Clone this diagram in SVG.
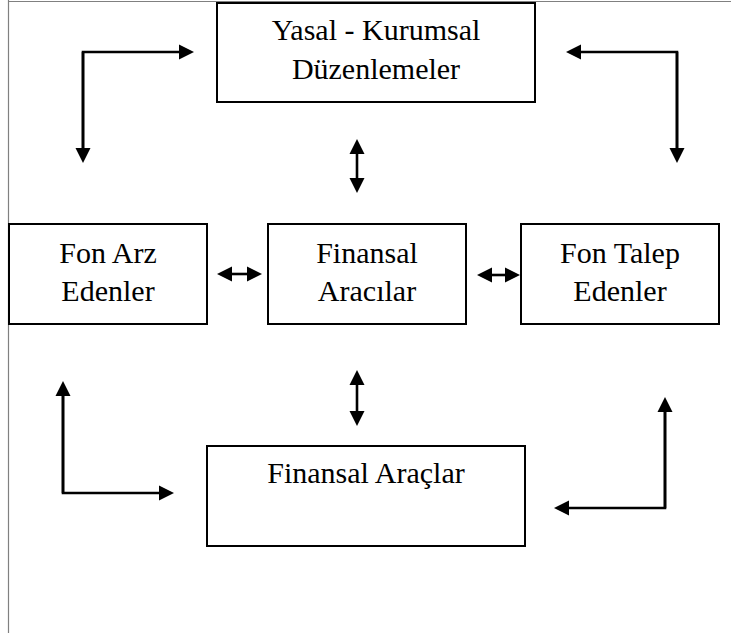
<svg xmlns="http://www.w3.org/2000/svg" width="731" height="633" viewBox="0 0 731 633">
<style>
.frame{stroke:#808080;stroke-width:1.2;fill:none}
.box{fill:#fff;stroke:#000;stroke-width:2}
.lbl{font-family:"Liberation Serif","Times New Roman",serif;font-size:30px;fill:#000;text-anchor:middle}
.con{fill:none;stroke:#000;stroke-width:2.6}
.one{marker-end:url(#ah)}
.two{marker-start:url(#ah);marker-end:url(#ah)}
</style>
<defs>
<marker id="ah" markerUnits="userSpaceOnUse" markerWidth="16" markerHeight="16" viewBox="0 -8 15 16" refX="2" refY="0" orient="auto-start-reverse">
<path d="M0,-7.5 L15,0 L0,7.5 Z" fill="#000"/>
</marker>
</defs>
<rect width="731" height="633" fill="#fff"/>
<g id="frame">
<line class="frame" x1="8.5" y1="0" x2="8.5" y2="633"/>
<line class="frame" x1="8" y1="1.5" x2="731" y2="1.5"/>
</g>
<g id="connectors">
<path class="con one" d="M83,150 V52 H181"/>
<path class="con one" d="M83,52 V150"/>
<path class="con one" d="M677,150 V52 H579"/>
<path class="con one" d="M677,52 V150"/>
<line class="con two" x1="357" y1="152" x2="357" y2="180"/>
<line class="con two" x1="357" y1="383" x2="357" y2="413"/>
<line class="con two" x1="230" y1="274" x2="249" y2="274"/>
<line class="con two" x1="490" y1="275" x2="507" y2="275"/>
<path class="con one" d="M63,493 V394"/>
<path class="con one" d="M63,394 V493 H161"/>
<path class="con one" d="M665,508 V410"/>
<path class="con one" d="M665,410 V508 H567"/>
</g>
<g id="yasal">
<rect class="box" x="217" y="3" width="318" height="99"/>
<text class="lbl" x="376" y="40">Yasal - Kurumsal</text>
<text class="lbl" x="376" y="79">Düzenlemeler</text>
</g>
<g id="fonarz">
<rect class="box" x="9" y="224" width="198" height="100"/>
<text class="lbl" x="108" y="263">Fon Arz</text>
<text class="lbl" x="108" y="301">Edenler</text>
</g>
<g id="aracilar">
<rect class="box" x="268" y="224" width="198" height="100"/>
<text class="lbl" x="367" y="263">Finansal</text>
<text class="lbl" x="367" y="301">Aracılar</text>
</g>
<g id="fontalep">
<rect class="box" x="521" y="224" width="198" height="100"/>
<text class="lbl" x="620" y="263">Fon Talep</text>
<text class="lbl" x="620" y="301">Edenler</text>
</g>
<g id="araclar">
<rect class="box" x="207" y="446" width="318" height="100"/>
<text class="lbl" x="366" y="483">Finansal Araçlar</text>
</g>
</svg>
